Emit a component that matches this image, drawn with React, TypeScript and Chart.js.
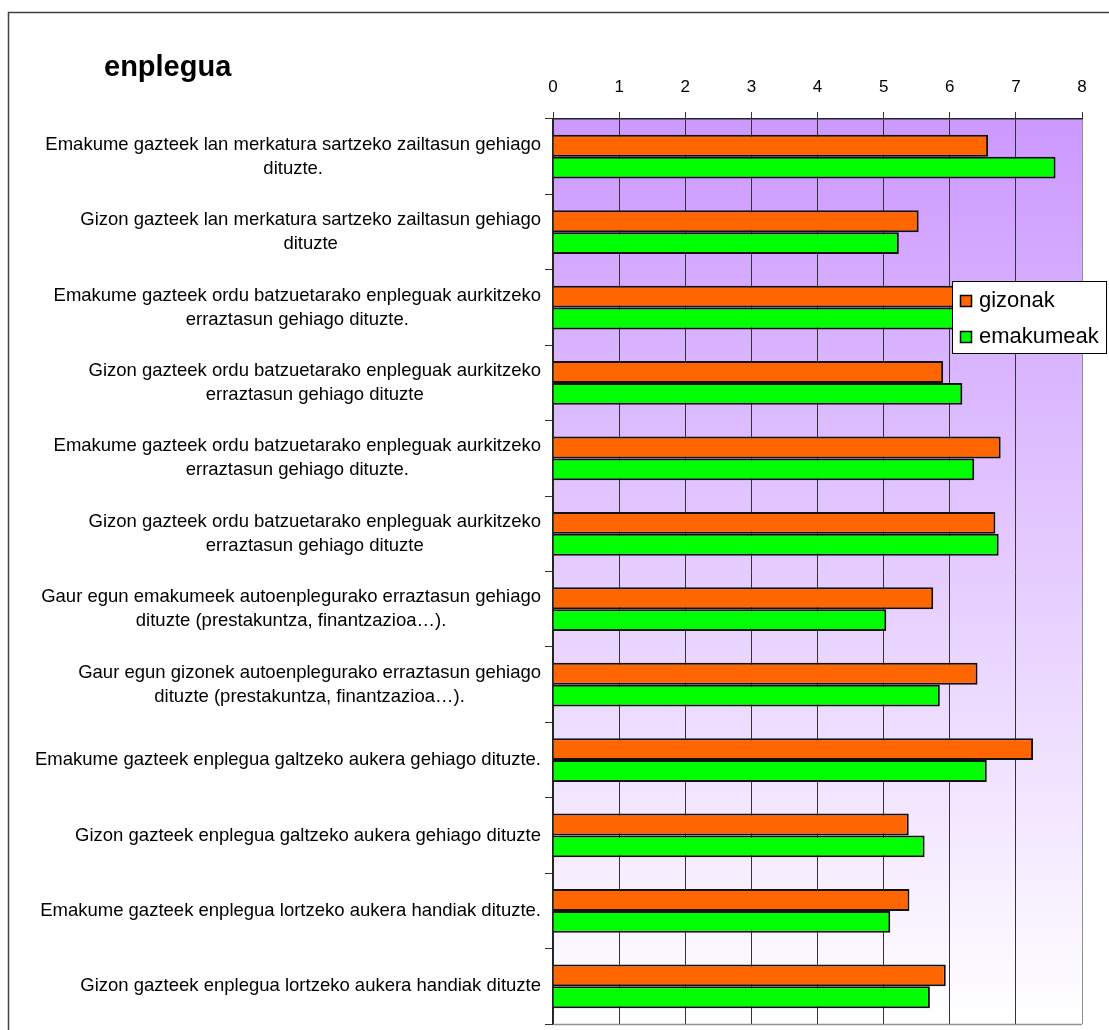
import React, { useEffect, useRef } from 'react';
import { Chart, registerables } from 'chart.js';

Chart.register(...registerables);

const chartTitle = 'enplegua';
const seriesNames = ['gizonak', 'emakumeak'];
const categories: string[][] = [
  ['Emakume gazteek lan merkatura sartzeko zailtasun gehiago', 'dituzte.'],
  ['Gizon gazteek lan merkatura sartzeko zailtasun gehiago', 'dituzte'],
  ['Emakume gazteek ordu batzuetarako enpleguak aurkitzeko', 'erraztasun gehiago dituzte.'],
  ['Gizon gazteek ordu batzuetarako enpleguak aurkitzeko', 'erraztasun gehiago dituzte'],
  ['Emakume gazteek ordu batzuetarako enpleguak aurkitzeko', 'erraztasun gehiago dituzte.'],
  ['Gizon gazteek ordu batzuetarako enpleguak aurkitzeko', 'erraztasun gehiago dituzte'],
  ['Gaur egun emakumeek autoenplegurako erraztasun gehiago', 'dituzte (prestakuntza, finantzazioa…).'],
  ['Gaur egun gizonek autoenplegurako erraztasun gehiago', 'dituzte (prestakuntza, finantzazioa…).'],
  ['Emakume gazteek enplegua galtzeko aukera gehiago dituzte.'],
  ['Gizon gazteek enplegua galtzeko aukera gehiago dituzte'],
  ['Emakume gazteek enplegua lortzeko aukera handiak dituzte.'],
  ['Gizon gazteek enplegua lortzeko aukera handiak dituzte'],
];
const gizonak = [6.58, 5.53, 6.4, 5.9, 6.77, 6.69, 5.75, 6.42, 7.26, 5.38, 5.39, 5.94];
const emakumeak = [7.6, 5.23, 6.3, 6.19, 6.37, 6.74, 5.04, 5.85, 6.56, 5.62, 5.1, 5.7];
const axisMin = 0;
const axisMax = 8;
const axisStep = 1;

const FONT = '"Liberation Sans", Arial, sans-serif';
const ORANGE = '#FF6600';
const GREEN = '#00FF00';

const decorPlugin = {
  id: 'decor',
  beforeDraw(chart: any) {
    const { ctx, chartArea: a } = chart;
    ctx.save();
    ctx.fillStyle = '#ffffff';
    ctx.fillRect(0, 0, chart.width, chart.height);
    const g = ctx.createLinearGradient(0, a.top, 0, a.bottom);
    g.addColorStop(0, '#CC99FF');
    g.addColorStop(1, '#FFFFFF');
    ctx.fillStyle = g;
    ctx.fillRect(a.left, a.top, a.right - a.left, a.bottom - a.top);
    // outer chart border
    ctx.strokeStyle = '#404040';
    ctx.lineWidth = 1.5;
    ctx.strokeRect(8.5, 12.5, 1300, 1300);
    // title
    ctx.fillStyle = '#000';
    ctx.font = `bold 29px ${FONT}`;
    ctx.textAlign = 'left';
    ctx.textBaseline = 'alphabetic';
    ctx.fillText(chartTitle, 104, 76);
    ctx.restore();
  },
  afterDraw(chart: any) {
    const { ctx, chartArea: a } = chart;
    const yScale = chart.scales.y;
    ctx.save();
    // plot area bottom border
    ctx.strokeStyle = '#909090';
    ctx.lineWidth = 1.5;
    ctx.beginPath();
    ctx.moveTo(a.left, a.bottom + 0.5);
    ctx.lineTo(a.right, a.bottom + 0.5);
    ctx.stroke();
    // category labels
    ctx.fillStyle = '#000';
    ctx.font = `18.5px ${FONT}`;
    ctx.textAlign = 'center';
    ctx.textBaseline = 'middle';
    categories.forEach((lines, i) => {
      const cy = yScale.getPixelForValue(i);
      const maxW = Math.max(...lines.map((l) => ctx.measureText(l).width));
      const cx = 541 - maxW / 2;
      lines.forEach((l, j) => {
        ctx.fillText(l, cx, cy + (j - (lines.length - 1) / 2) * 24);
      });
    });
    // legend
    const lx = 952, ly = 281, lw = 154, lh = 72;
    ctx.fillStyle = '#fff';
    ctx.fillRect(lx, ly, lw, lh);
    ctx.strokeStyle = '#000';
    ctx.lineWidth = 1;
    ctx.strokeRect(lx + 0.5, ly + 0.5, lw, lh);
    const colors = [ORANGE, GREEN];
    ctx.font = `22px ${FONT}`;
    ctx.textAlign = 'left';
    ctx.textBaseline = 'alphabetic';
    seriesNames.forEach((n, i) => {
      const sy = 295 + i * 36;
      ctx.fillStyle = colors[i];
      ctx.fillRect(960, sy, 12, 12);
      ctx.strokeStyle = '#000';
      ctx.lineWidth = 1.5;
      ctx.strokeRect(960.5, sy + 0.5, 11, 11);
      ctx.fillStyle = '#000';
      ctx.fillText(n, 979, sy + 12);
    });
    ctx.restore();
  },
};

export default function App() {
  const ref = useRef<HTMLCanvasElement | null>(null);
  useEffect(() => {
    if (!ref.current) return;
    const chart = new Chart(ref.current, {
      type: 'bar',
      data: {
        labels: categories.map((c) => c.join(' ')),
        datasets: [
          {
            label: seriesNames[0],
            data: gizonak,
            backgroundColor: ORANGE,
            borderColor: '#111',
            borderWidth: 2,
            barPercentage: 1,
            categoryPercentage: 0.58,
          },
          {
            label: seriesNames[1],
            data: emakumeak,
            backgroundColor: GREEN,
            borderColor: '#111',
            borderWidth: 2,
            barPercentage: 1,
            categoryPercentage: 0.58,
          },
        ],
      },
      options: {
        indexAxis: 'y',
        responsive: false,
        animation: false,
        devicePixelRatio: 1,
        layout: { padding: { left: 0, top: 0, right: 27, bottom: 6 } },
        plugins: {
          legend: { display: false },
          tooltip: { enabled: false },
          title: { display: false },
        },
        scales: {
          x: {
            position: 'top',
            min: axisMin,
            max: axisMax,
            ticks: {
              stepSize: axisStep,
              color: '#000',
              font: { family: FONT, size: 17 },
              padding: 14,
            },
            grid: {
              color: (c: any) => (c.tick && c.tick.value === axisMax ? '#909090' : '#333333'),
              lineWidth: 1,
              tickLength: 7,
              tickColor: '#333',
            },
            border: { display: true, color: '#222', width: 1.5 },
            afterFit: (s: any) => {
              s.height = 119;
            },
          },
          y: {
            position: 'left',
            ticks: { display: false },
            grid: {
              offset: true,
              drawOnChartArea: false,
              drawTicks: true,
              tickLength: 8,
              color: '#333',
            },
            border: { display: true, color: '#222', width: 1.5 },
            afterFit: (s: any) => {
              s.width = 553;
            },
          },
        },
      },
      plugins: [decorPlugin],
    } as any);
    return () => chart.destroy();
  }, []);
  return (
    <div style={{ position: 'fixed', left: 0, top: 0, width: 1109, height: 1030, background: '#fff' }}>
      <canvas ref={ref} width={1109} height={1030} style={{ display: 'block' }} />
    </div>
  );
}
